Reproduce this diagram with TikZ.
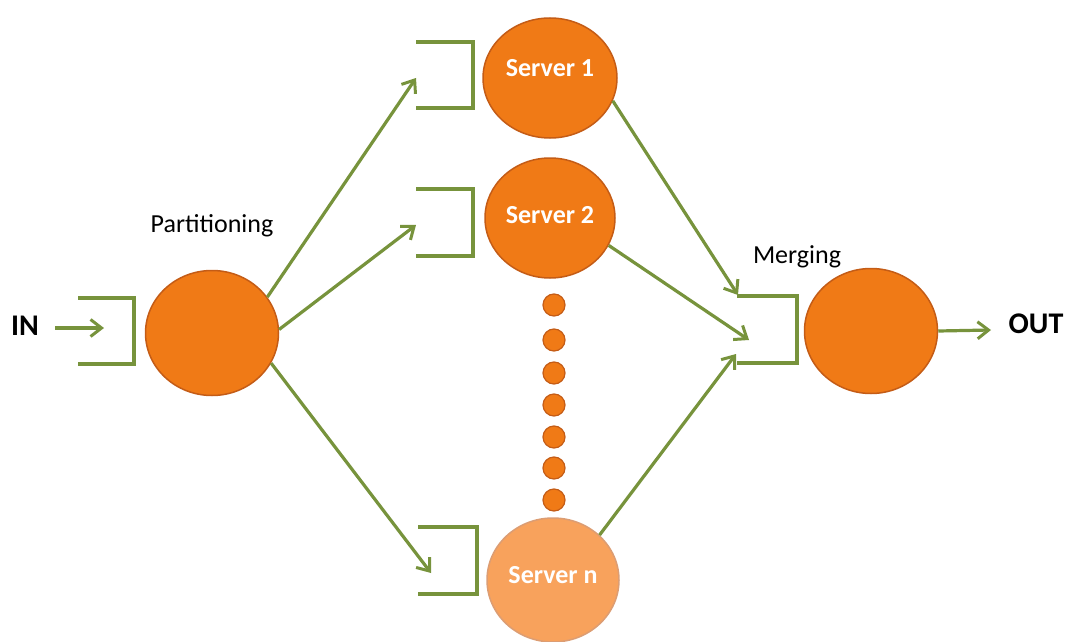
\documentclass[tikz,border=0pt]{standalone}
\usepackage{fontspec}
\setmainfont{Carlito}
\usetikzlibrary{shapes.geometric,arrows.meta}
\definecolor{orangeC}{RGB}{240,122,22}
\definecolor{orangeD}{RGB}{196,92,22}
\definecolor{orangeL}{RGB}{248,162,92}
\definecolor{greenC}{RGB}{119,147,60}
\tikzset{
  ball/.style={ellipse, inner sep=0pt, fill=orangeC, draw=orangeD, line width=1.5pt},
  bigball/.style={ball, minimum width=133pt, minimum height=125pt},
  dot/.style={circle, inner sep=0pt, minimum size=22pt, fill=orangeC, draw=orangeD, line width=1.2pt},
  link/.style={draw=greenC, line width=3.2pt},
  flow/.style={link, -{Straight Barb[length=11pt,width=17pt,line width=3pt]}},
  lbl/.style={font=\fontsize{26}{28}\selectfont, text=black, anchor=base},
  io/.style={font=\fontsize{30}{32}\selectfont\bfseries, text=black, anchor=base},
  srvtxt/.style={font=\fontsize{26}{28}\selectfont\bfseries, text=white, anchor=base}
}
\begin{document}
\begin{tikzpicture}[x=1pt,y=-1pt]
\useasboundingbox (0,0) rectangle (1066,642);
% nodes
\node[io] (in) at (25,335) {IN};
\node[io] (out) at (1036,333) {OUT};
\node[bigball] (part) at (212,333) {};
\node[bigball] (merge) at (871,331) {};
\node[ball, minimum width=134pt, minimum height=120pt] (s1) at (550,78) {};
\node[ball, minimum width=130pt, minimum height=120pt] (s2) at (550,218) {};
\node[ball, fill=orangeL, draw=orangeD!60, minimum width=132pt, minimum height=124pt] (sn) at (553,580) {};
\node[srvtxt] (s1t) at (550,77) {Server 1};
\node[srvtxt] (s2t) at (550,223) {Server 2};
\node[srvtxt] (snt) at (553,583) {Server n};
\node[lbl] (plabel) at (212,232) {Partitioning};
\node[lbl] (mlabel) at (797,263) {Merging};
% dots
\foreach \y [count=\i] in {305,340,373,405,437,468,500}
  \node[dot] (d\i) at (554,\y) {};
% brackets
\draw[link] (78,298) -- (134,298) -- (134,364) -- (78,364);
\draw[link] (416,42) -- (473,42) -- (473,108) -- (416,108);
\draw[link] (416,189) -- (473,189) -- (473,256) -- (416,256);
\draw[link] (418,527) -- (477,527) -- (477,594) -- (418,594);
\draw[link] (737,296) -- (797,296) -- (797,363) -- (737,363);
% coordinates
\coordinate (inStart) at (55,328);
\coordinate (inTip) at (104,328);
\coordinate (b1) at (416,78);
\coordinate (b2) at (416,225);
\coordinate (bn) at (431,573);
\coordinate (m1) at (738,295);
\coordinate (m2) at (749,340);
\coordinate (m3) at (736,354);
\coordinate (outTip) at (991,330);
% connectors
\draw[flow] (inStart) -- (inTip);
\draw[flow] (part.33) -- (b1);
\draw[flow] (part.3) -- (b2);
\draw[flow] (part.-27) -- (bn);
\draw[flow] (s1.-20) -- (m1);
\draw[flow] (s2.-25) -- (m2);
\draw[flow] (sn.44) -- (m3);
\draw[flow] (merge.east) -- (outTip);
\end{tikzpicture}
\end{document}
